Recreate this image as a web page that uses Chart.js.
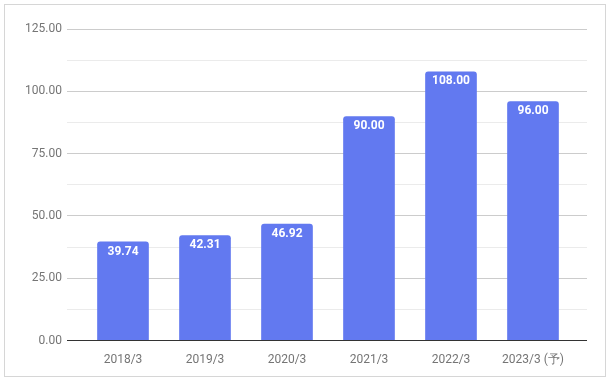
<!DOCTYPE html>
<html>
<head>
<meta charset="utf-8">
<script src="https://cdn.jsdelivr.net/npm/chart.js@4"></script>
<style>
html,body{margin:0;padding:0;background:#fff;}
#wrap{position:relative;width:612px;height:381px;}
#frame{position:absolute;left:4px;top:4px;width:600px;height:371px;border:1px solid #d6d6d6;box-sizing:content-box;pointer-events:none;}
canvas{position:absolute;left:0;top:0;}
</style>
</head>
<body>
<div id="wrap"><canvas id="c" width="612" height="381"></canvas><div id="frame"></div></div>
<script>
const categories = ['2018/3','2019/3','2020/3','2021/3','2022/3','2023/3 (予)'];
const values = [39.74, 42.31, 46.92, 90.00, 108.00, 96.00];
const yTickLabels = ['0.00','25.00','50.00','75.00','100.00','125.00'];

const valueLabels = {
  id: 'valueLabels',
  afterDatasetsDraw(chart) {
    const ctx = chart.ctx;
    const meta = chart.getDatasetMeta(0);
    ctx.save();
    ctx.fillStyle = '#ffffff';
    ctx.font = 'bold 12px Roboto';
    ctx.textAlign = 'center';
    ctx.textBaseline = 'middle';
    meta.data.forEach((bar, i) => {
      ctx.fillText(values[i].toFixed(2), bar.x, bar.y + 10);
    });
    ctx.restore();
  }
};

function gridColor(c) {
  const v = c.tick ? c.tick.value : 0;
  if (v === 0) return '#333333';
  if (Math.abs(v % 25) < 1e-6) return '#cccccc';
  return '#ebebeb';
}

new Chart(document.getElementById('c'), {
  type: 'bar',
  data: {
    labels: categories,
    datasets: [{
      data: values,
      backgroundColor: '#6279f0',
      borderRadius: {topLeft: 3, topRight: 3},
      borderSkipped: 'bottom',
      categoryPercentage: 1,
      barPercentage: 0.63
    }]
  },
  options: {
    responsive: false,
    animation: false,
    layout: {padding: {left: 0, right: 25, top: 29, bottom: 10}},
    plugins: {legend: {display: false}, tooltip: {enabled: false}},
    scales: {
      x: {
        z: 1,
        grid: {display: false},
        border: {display: true, color: '#333333', width: 1},
        ticks: {color: '#757575', font: {family: 'Roboto', size: 12}, padding: 4, maxRotation: 0, autoSkip: false}
      },
      y: {
        min: 0, max: 125,
        afterFit(s) { s.width = 82; },
        ticks: {
          stepSize: 12.5,
          color: '#757575',
          font: {family: 'Roboto', size: 12},
          padding: 5,
          callback(v) { return Math.abs(v % 25) < 1e-6 ? yTickLabels[Math.round(v / 25)] : ''; }
        },
        grid: {color: gridColor, tickLength: 15, drawTicks: true},
        border: {display: false}
      },
      y2: {
        position: 'right',
        min: 0, max: 125,
        afterFit(s) { s.width = 13; },
        ticks: {stepSize: 12.5, display: false},
        grid: {color: gridColor, tickLength: 13, drawOnChartArea: false, drawTicks: true},
        border: {display: false}
      }
    }
  },
  plugins: [valueLabels]
});
</script>
</body>
</html>
